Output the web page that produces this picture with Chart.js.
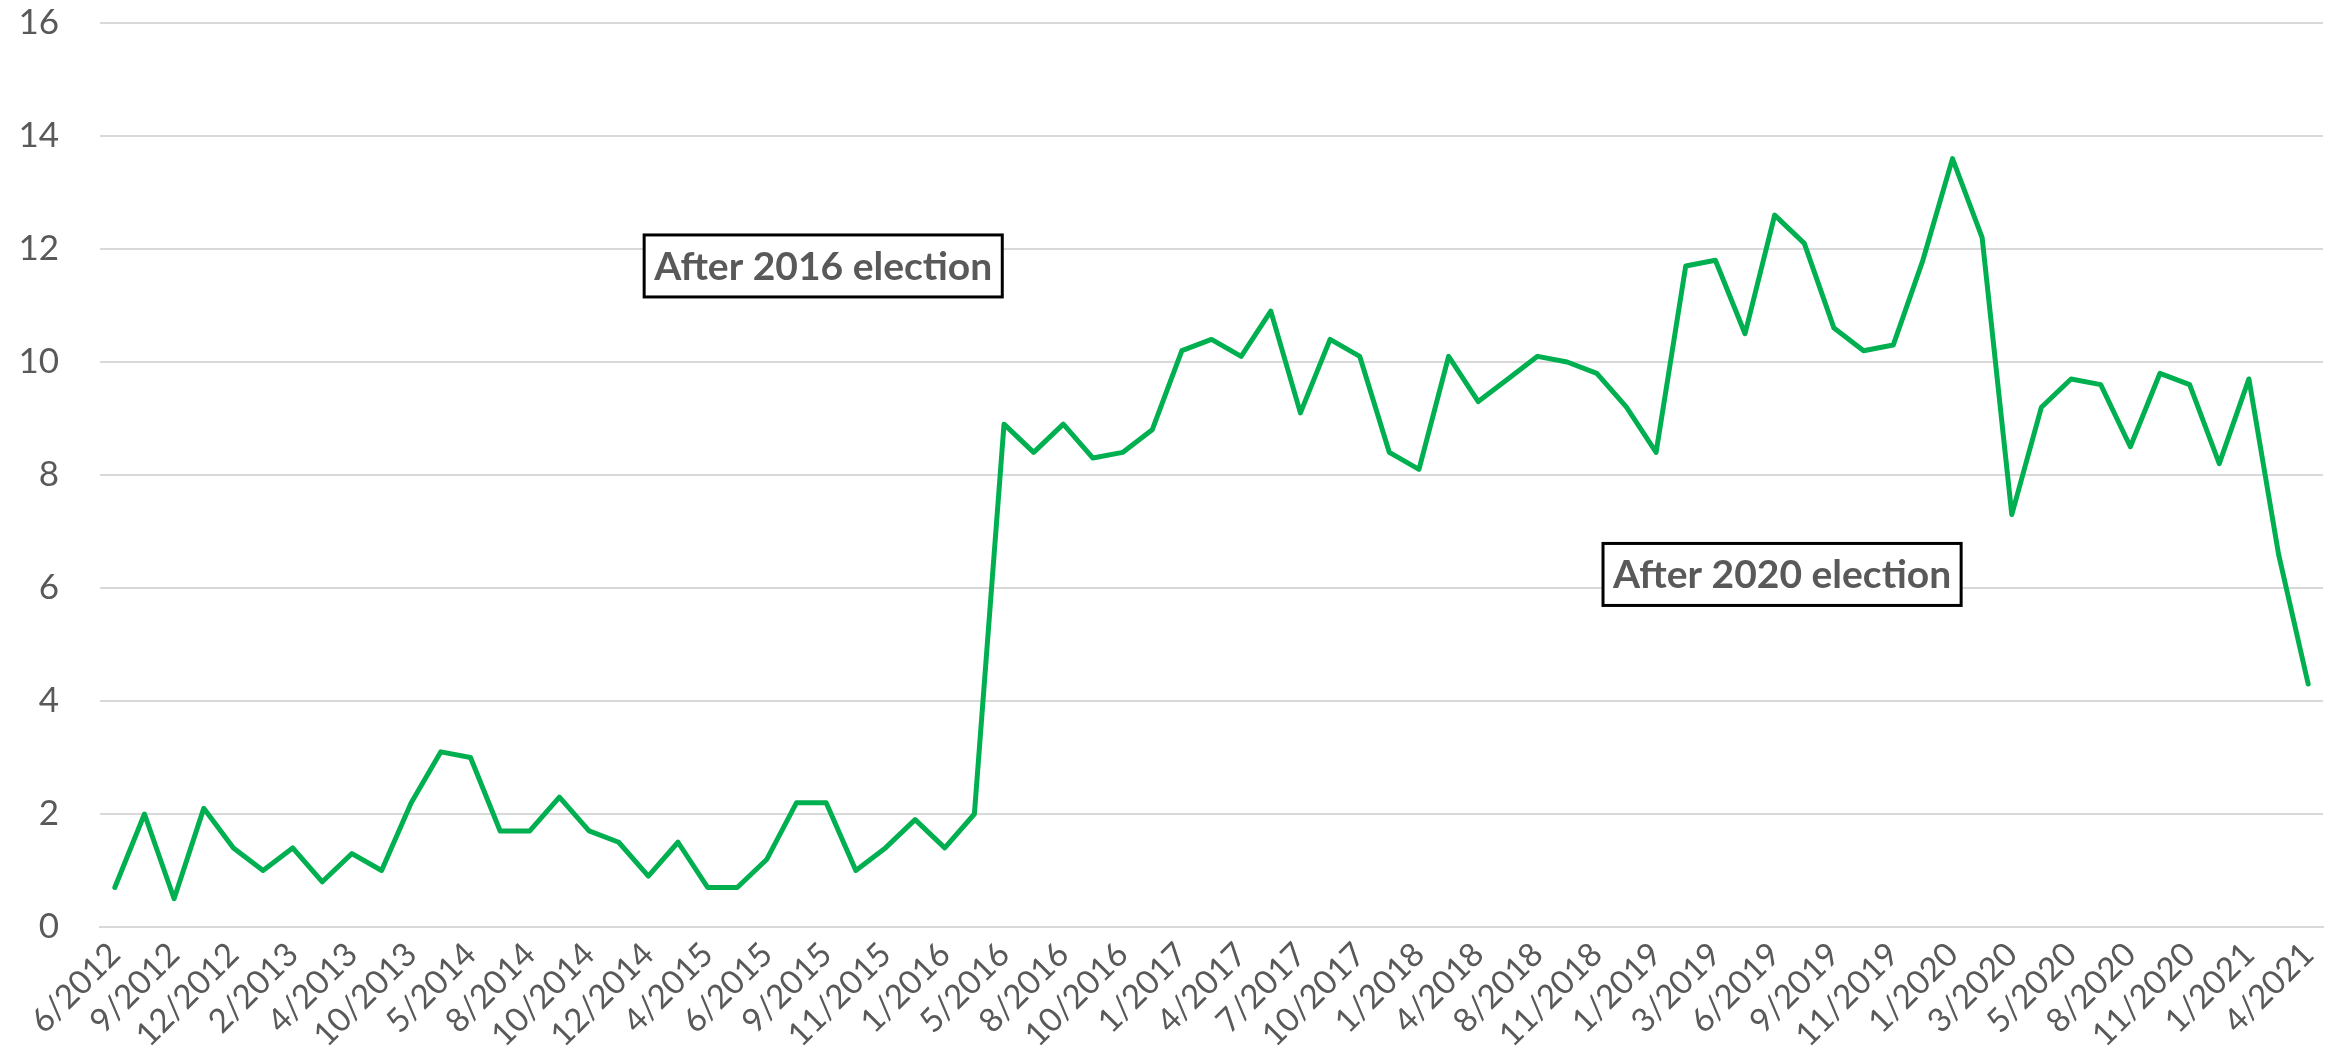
<!DOCTYPE html>
<html>
<head>
<meta charset="utf-8">
<script src="https://cdn.jsdelivr.net/npm/chart.js@4.4.1/dist/chart.umd.min.js"></script>
<style>
  html, body { margin: 0; padding: 0; background: #fff; }
  #chart { display: block; }
</style>
</head>
<body>
<canvas id="chart" width="2346" height="1048"></canvas>
<script>
/* ============================
   DATA
============================ */
// every other point carries a date label (Excel skip = 2)
const TICK_LABELS = [
    "6/2012","9/2012","12/2012","2/2013","4/2013","10/2013","5/2014","8/2014",
    "10/2014","12/2014","4/2015","6/2015","9/2015","11/2015","1/2016","5/2016",
    "8/2016","10/2016","1/2017","4/2017","7/2017","10/2017","1/2018","4/2018",
    "8/2018","11/2018","1/2019","3/2019","6/2019","9/2019","11/2019","1/2020",
    "3/2020","5/2020","8/2020","11/2020","1/2021","4/2021"
];

const VALUES = [
    0.7, 2.0, 0.5, 2.1, 1.4, 1.0, 1.4, 0.8, 1.3, 1.0,
    2.2, 3.1, 3.0, 1.7, 1.7, 2.3, 1.7, 1.5, 0.9, 1.5,
    0.7, 0.7, 1.2, 2.2, 2.2, 1.0, 1.4, 1.9, 1.4, 2.0,
    8.9, 8.4, 8.9, 8.3, 8.4, 8.8, 10.2, 10.4, 10.1, 10.9,
    9.1, 10.4, 10.1, 8.4, 8.1, 10.1, 9.3, 9.7, 10.1, 10.0,
    9.8, 9.2, 8.4, 11.7, 11.8, 10.5, 12.6, 12.1, 10.6, 10.2,
    10.3, 11.8, 13.6, 12.2, 7.3, 9.2, 9.7, 9.6, 8.5, 9.8,
    9.6, 8.2, 9.7, 6.6, 4.3
];

const Y_TICKS = [0, 2, 4, 6, 8, 10, 12, 14, 16];

const NOTE_TEXTS = ["After 2016 election", "After 2020 election"];

(function () {
    const GRAY = "#595959";
    const FONT = "Lato, 'Open Sans', sans-serif";

    // one category per point, blank where Excel skipped the label
    const categories = VALUES.map((v, i) => i % 2 === 0 ? (TICK_LABELS[i / 2] || "") : "");

    /* ============================
       TEXT BOXES
    ============================ */
    // anchor = centre of the box, in data units (category index, y value)
    const noteAnchors = [
        { x: 23.9, y: 11.7 },
        { x: 56.25, y: 6.24 }
    ];

    const notesPlugin = {
        id: "notes",
        afterDatasetsDraw(chart) {
            const ctx = chart.ctx;
            const xs = chart.scales.x, ys = chart.scales.y;
            ctx.save();
            ctx.font = "bold 39px " + FONT;
            ctx.textBaseline = "middle";
            ctx.textAlign = "center";
            NOTE_TEXTS.forEach((txt, i) => {
                const a = noteAnchors[i];
                const cx = xs.getPixelForValue(a.x);
                const cy = ys.getPixelForValue(a.y);
                const w = ctx.measureText(txt).width + 20;
                const h = 62;
                ctx.fillStyle = "#fff";
                ctx.fillRect(cx - w / 2, cy - h / 2, w, h);
                ctx.lineWidth = 3;
                ctx.strokeStyle = "#000";
                ctx.strokeRect(cx - w / 2, cy - h / 2, w, h);
                ctx.fillStyle = GRAY;
                ctx.fillText(txt, cx, cy + 1);
            });
            ctx.restore();
        }
    };

    /* ============================
       CHART
    ============================ */
    new Chart(document.getElementById("chart").getContext("2d"), {
        type: "line",
        data: {
            labels: categories,
            datasets: [{
                data: VALUES,
                borderColor: "#00B050",
                borderWidth: 5,
                borderJoinStyle: "round",
                borderCapStyle: "round",
                pointRadius: 0,
                tension: 0,
                fill: false
            }]
        },
        options: {
            responsive: false,
            animation: false,
            devicePixelRatio: 1,
            layout: { padding: { top: 23, right: 23, left: 0, bottom: 0 } },
            plugins: {
                legend: { display: false },
                tooltip: { enabled: false }
            },
            scales: {
                x: {
                    offset: true,
                    grid: { display: false, drawTicks: false },
                    border: { display: true, color: "#d9d9d9", width: 2 },
                    ticks: {
                        autoSkip: false,
                        minRotation: 45,
                        maxRotation: 45,
                        padding: 8,
                        color: GRAY,
                        font: { family: FONT, size: 33 }
                    },
                    afterFit: s => { s.height = 121; }
                },
                y: {
                    min: Y_TICKS[0],
                    max: Y_TICKS[Y_TICKS.length - 1],
                    afterBuildTicks: s => { s.ticks = Y_TICKS.map(v => ({ value: v })); },
                    grid: { color: "#d9d9d9", lineWidth: 2, drawTicks: false },
                    border: { display: false },
                    ticks: {
                        padding: 41,
                        color: GRAY,
                        font: { family: FONT, size: 35 }
                    },
                    afterFit: s => {
                        s.width = 100;
                        s.paddingTop = 0;
                        s.paddingBottom = 0;
                    }
                }
            }
        },
        plugins: [notesPlugin]
    });
})();
</script>
</body>
</html>
